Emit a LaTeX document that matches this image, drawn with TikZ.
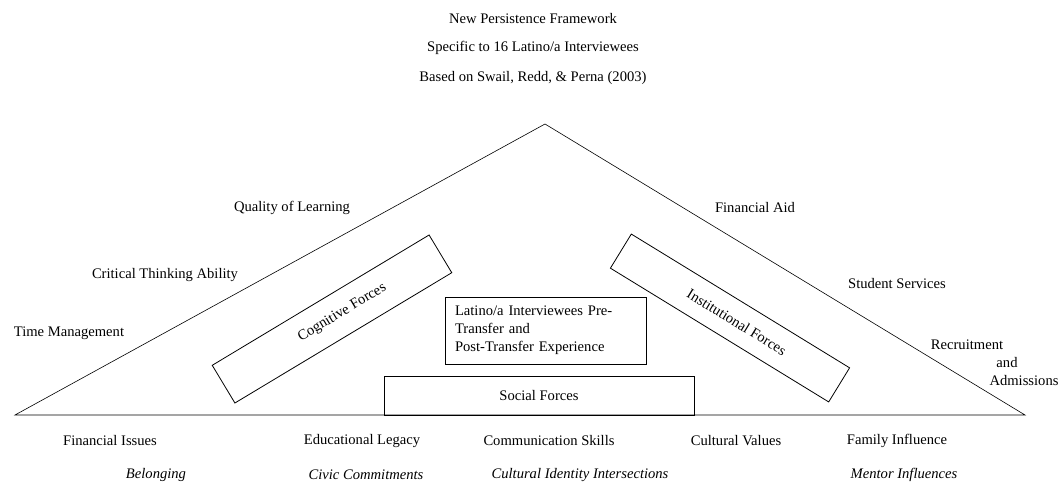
\documentclass[tikz,border=0pt]{standalone}
\usepackage{fontspec}
\setmainfont{Liberation Serif}
\tikzset{
  lbl/.style={inner sep=0pt},
  forcebox/.style={draw,thick,inner sep=0pt},
  subforce/.style={lbl,font=\fontsize{14.6}{18}\selectfont\itshape}
}
\begin{document}
\begin{tikzpicture}[x=1pt,y=-1pt,font=\fontsize{14.6}{18}\selectfont]
\useasboundingbox (0,0) rectangle (1060,489);

\node[lbl] (title1) at (533,19) {New Persistence Framework};
\node[lbl] (title2) at (533,48) {Specific to 16 Latino/a Interviewees};
\node[lbl] (title3) at (533,78) {Based on Swail, Redd, \& Perna (2003)};

\coordinate (apex) at (545,124);
\coordinate (bl) at (15,415);
\coordinate (br) at (1025,415);
\path[draw,semithick] (bl) -- (apex) -- (br) -- cycle;

\node[forcebox,minimum width=253,minimum height=44,rotate=31] (cog) at (332,319) {\hspace*{24pt}Cognitive Forces};
\node[forcebox,minimum width=256,minimum height=40,rotate=-31.5] (inst) at (730,318) {\hspace*{16pt}Institutional Forces};
\node[forcebox,minimum width=201,minimum height=67,text width=181,inner xsep=10,align=left] (exp) at (545.5,330.5)
  {Latino/a Interviewees Pre-\\Transfer and\\Post-Transfer Experience};
\node[forcebox,minimum width=310,minimum height=39] (soc) at (539,395.5) {Social Forces};

\node[lbl] (qual) at (292,208) {Quality of Learning};
\node[lbl] (crit) at (165,275) {Critical Thinking Ability};
\node[lbl] (time) at (69,333) {Time Management};

\node[lbl] (aid) at (755,208) {Financial Aid};
\node[lbl] (serv) at (897,284) {Student Services};
\node[lbl] (rec1) at (967,345) {Recruitment};
\node[lbl] (rec2) at (1007,363) {and};
\node[lbl] (rec3) at (1024,381) {Admissions};

\node[lbl] (fin) at (110,441) {Financial Issues};
\node[lbl] (edu) at (362,441) {Educational Legacy};
\node[lbl] (comm) at (549,441) {Communication Skills};
\node[lbl] (cult) at (736,441) {Cultural Values};
\node[lbl] (fam) at (897,441) {Family Influence};

\node[subforce] (bel) at (156,475) {Belonging};
\node[subforce] (civ) at (366,475) {Civic Commitments};
\node[subforce] (ident) at (580,475) {Cultural Identity Intersections};
\node[subforce] (ment) at (904,475) {Mentor Influences};

\end{tikzpicture}
\end{document}
